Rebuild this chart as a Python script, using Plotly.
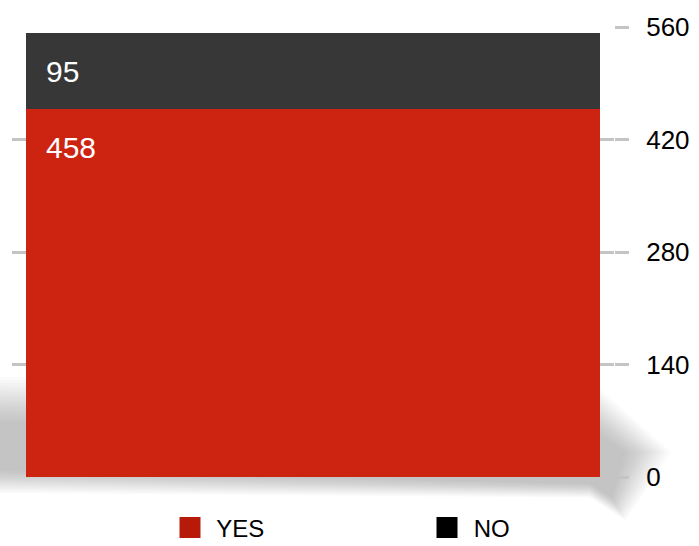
import plotly.graph_objects as go

# Survey result: one stacked column split into YES / NO
categories = ["Total"]
yes_values = [458]
no_values = [95]
series_names = ["YES", "NO"]
tick_values = [0, 140, 280, 420, 560]

YES_COLOR = "#cc2411"
YES_LEGEND = "#b81a0a"
NO_COLOR = "#373737"
NO_LEGEND = "#000000"
FONT = "Liberation Sans, Arial, Helvetica, sans-serif"

W, H = 699, 546
ML, MR, MT, MB = 12, 85, 27, 69
plot_w = W - ML - MR
plot_h = H - MT - MB


def px_x(x):
    return (x - ML) / plot_w


def px_y(y):
    return (H - MB - y) / plot_h


fig = go.Figure()

fig.add_trace(go.Bar(
    x=categories, y=yes_values, name=series_names[0],
    marker=dict(color=YES_COLOR, line=dict(width=0)),
    showlegend=False, hoverinfo="y+name",
))
fig.add_trace(go.Bar(
    x=categories, y=no_values, name=series_names[1],
    marker=dict(color=NO_COLOR, line=dict(width=0)),
    showlegend=False, hoverinfo="y+name",
))

# Legend entries with large square swatches
for name, col in zip(series_names, [YES_LEGEND, NO_LEGEND]):
    fig.add_trace(go.Scatter(
        x=[None], y=[None], mode="markers", name=" " + name,
        marker=dict(symbol="square", size=16, color=col,
                    line=dict(color=col, width=5)),
    ))

# Segment value labels, anchored at the top of each segment
seg_tops = [yes_values[0], yes_values[0] + no_values[0]]
seg_vals = [yes_values[0], no_values[0]]
annotations = []
for top, val in zip(seg_tops, seg_vals):
    annotations.append(dict(
        x=px_x(44), xref="paper", xanchor="left",
        y=top, yref="y", yanchor="top", yshift=-20,
        text=str(val), showarrow=False,
        font=dict(family=FONT, size=30, color="white"),
    ))


def poly(points):
    parts = ["M{:.4f},{:.4f}".format(px_x(x), px_y(y)) for x, y in points[:1]]
    parts += ["L{:.4f},{:.4f}".format(px_x(x), px_y(y)) for x, y in points[1:]]
    return " ".join(parts) + " Z"


# Soft wedge-shaped drop shadow behind the column base
shapes = []
n_layers = 16
for i in range(n_layers):
    g = 3.0 * i
    pts = [
        (-40 - g, 420 - g),
        (600, 434 - g),
        (626 + 1.0 * g, 452),
        (612 + 0.3 * g, 498 + 0.5 * g),
        (590, 484 + 0.3 * g),
        (-40 - g, 470 + 0.5 * g),
    ]
    shapes.append(dict(
        type="path", path=poly(pts), xref="paper", yref="paper", layer="below",
        fillcolor="rgb(70,70,70)", opacity=0.024, line=dict(width=0),
    ))

fig.update_layout(
    width=W, height=H,
    margin=dict(l=ML, r=MR, t=MT, b=MB, pad=0, autoexpand=False),
    barmode="stack", bargap=0.047,
    paper_bgcolor="white", plot_bgcolor="rgba(0,0,0,0)",
    font=dict(family=FONT, color="black"),
    xaxis=dict(visible=False),
    yaxis=dict(
        side="right", range=[0, 560], tickvals=tick_values,
        showgrid=True, gridcolor="#c4c4c4", gridwidth=3,
        zeroline=False, showline=False,
        ticks="outside", ticklen=14, tickwidth=3, tickcolor="#c4c4c4",
        ticklabelstandoff=12,
        tickfont=dict(family=FONT, size=26, color="black"),
    ),
    legend=dict(
        orientation="h", traceorder="normal",
        xref="container", yref="container",
        x=170 / W, xanchor="left",
        y=1 - 528 / H, yanchor="middle",
        font=dict(family=FONT, size=24, color="black"),
        entrywidth=212, entrywidthmode="pixels",
        bgcolor="rgba(0,0,0,0)", itemclick=False,
    ),
    annotations=annotations,
    shapes=shapes,
    showlegend=True,
)

fig.write_html("out.html")
